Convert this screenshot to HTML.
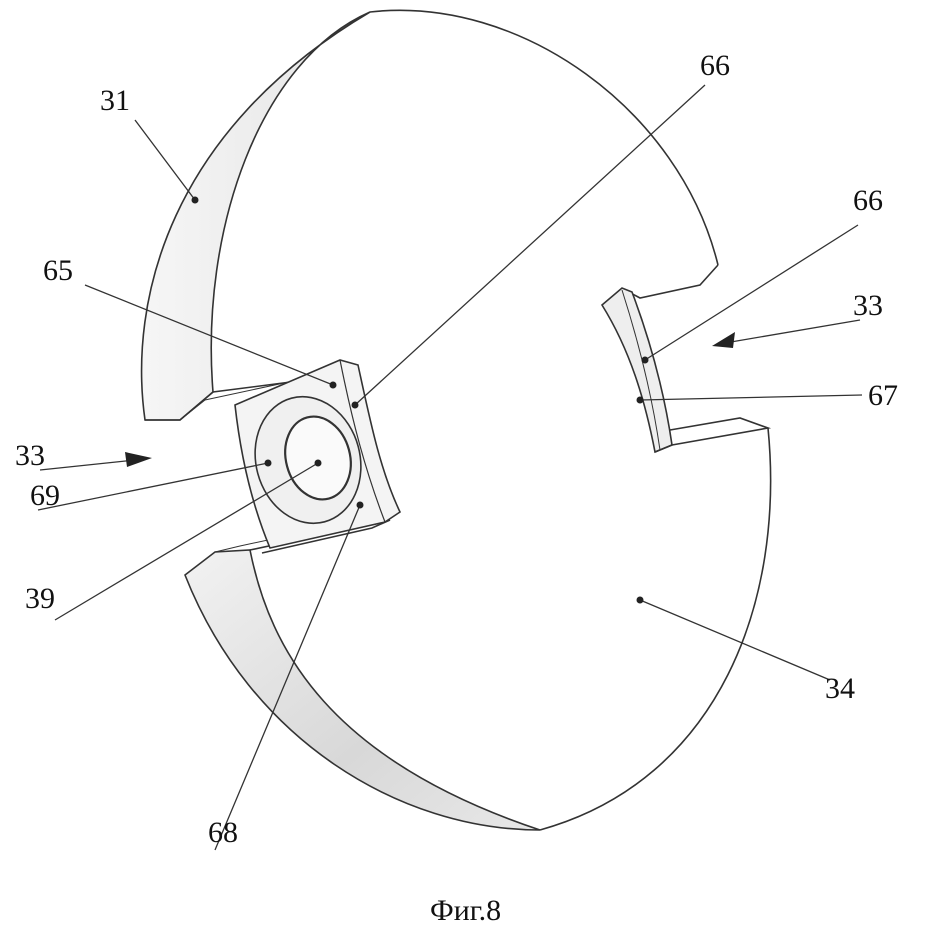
<!DOCTYPE html>
<html><head><meta charset="utf-8"><style>
html,body{margin:0;padding:0;background:#fff;}
svg{display:block;}
text{font-family:"Liberation Serif",serif;font-size:30px;fill:#111;}
</style></head><body>
<svg width="933" height="950" viewBox="0 0 933 950" xmlns="http://www.w3.org/2000/svg">
<defs>
<linearGradient id="g1" x1="0" y1="0" x2="1" y2="1">
<stop offset="0" stop-color="#f2f2f2"/><stop offset="0.6" stop-color="#d8d8d8"/><stop offset="1" stop-color="#e8e8e8"/>
</linearGradient>
<linearGradient id="g2" x1="0" y1="0" x2="1" y2="0">
<stop offset="0" stop-color="#f6f6f6"/><stop offset="1" stop-color="#e4e4e4"/>
</linearGradient>
</defs>
<g fill="none" stroke="#333" stroke-width="1.6">
<!-- upper back band -->
<path d="M145 420 C128 300 170 130 370 12 C260 60 200 230 213 392 L180 420 Z" fill="url(#g2)"/>
<!-- front face outline -->
<path d="M370 12 C520 -5 680 110 718 265"/>
<!-- upper cut -->
<path d="M718 265 L700 285 L640 298 L625 290"/>
<path d="M145 420 L180 420 L213 392 L338 376"/>
<path d="M180 420 L205 400 L335 372" stroke-width="1"/>
<!-- right insert -->
<path d="M602 305 L622 288 L632 292 C650 340 664 390 672 445 L655 452 C645 400 630 350 602 305 Z" fill="#eee"/>
<path d="M622 290 C638 340 652 395 660 450" stroke-width="1"/>
<!-- lower cut -->
<path d="M655 452 L672 445 L768 428 L740 418 L670 430"/>
<!-- lower part -->
<path d="M185 575 L215 552 L250 550 C270 650 330 760 540 830 C400 830 250 740 185 575 Z" fill="url(#g1)"/>
<path d="M768 428 C785 600 720 780 540 830"/>
<path d="M250 550 L390 520 L372 528 L262 553"/>
<path d="M215 552 L240 546 L385 515" stroke-width="1"/>
<!-- left insert square -->
<path d="M235 405 L340 360 L358 365 C370 420 380 470 400 512 L385 522 L270 548 C250 500 240 450 235 405 Z" fill="#f4f4f4"/>
<path d="M340 360 C352 420 365 470 385 522" stroke-width="1.2"/>
<ellipse cx="308" cy="460" rx="52" ry="64" transform="rotate(-15 308 460)" fill="#f0f0f0"/>
<ellipse cx="318" cy="458" rx="32" ry="42" transform="rotate(-15 318 458)" fill="#fafafa" stroke-width="2.2"/>
</g>
<!-- leaders -->
<g stroke="#333" stroke-width="1.3" fill="none">
<line x1="135" y1="120" x2="195" y2="200"/>
<line x1="705" y1="85" x2="355" y2="405"/>
<line x1="858" y1="225" x2="645" y2="360"/>
<line x1="85" y1="285" x2="333" y2="385"/>
<line x1="860" y1="320" x2="725" y2="343"/>
<line x1="862" y1="395" x2="640" y2="400"/>
<line x1="40" y1="470" x2="135" y2="460"/>
<line x1="38" y1="510" x2="268" y2="463"/>
<line x1="55" y1="620" x2="318" y2="463"/>
<line x1="830" y1="680" x2="640" y2="600"/>
<line x1="215" y1="850" x2="360" y2="505"/>
</g>
<g fill="#222">
<polygon points="712,346 735,332 733,348"/>
<polygon points="152,458 125,452 127,467"/>
<circle cx="195" cy="200" r="3.5"/><circle cx="355" cy="405" r="3.5"/>
<circle cx="645" cy="360" r="3.5"/><circle cx="333" cy="385" r="3.5"/>
<circle cx="640" cy="400" r="3.5"/><circle cx="268" cy="463" r="3.5"/>
<circle cx="318" cy="463" r="3.5"/><circle cx="640" cy="600" r="3.5"/>
<circle cx="360" cy="505" r="3.5"/>
</g>
<text x="100" y="110">31</text>
<text x="700" y="75">66</text>
<text x="853" y="210">66</text>
<text x="43" y="280">65</text>
<text x="853" y="315">33</text>
<text x="868" y="405">67</text>
<text x="15" y="465">33</text>
<text x="30" y="505">69</text>
<text x="25" y="608">39</text>
<text x="825" y="698">34</text>
<text x="208" y="842">68</text>
<text x="430" y="920">Фиг.8</text>
</svg>
</body></html>
